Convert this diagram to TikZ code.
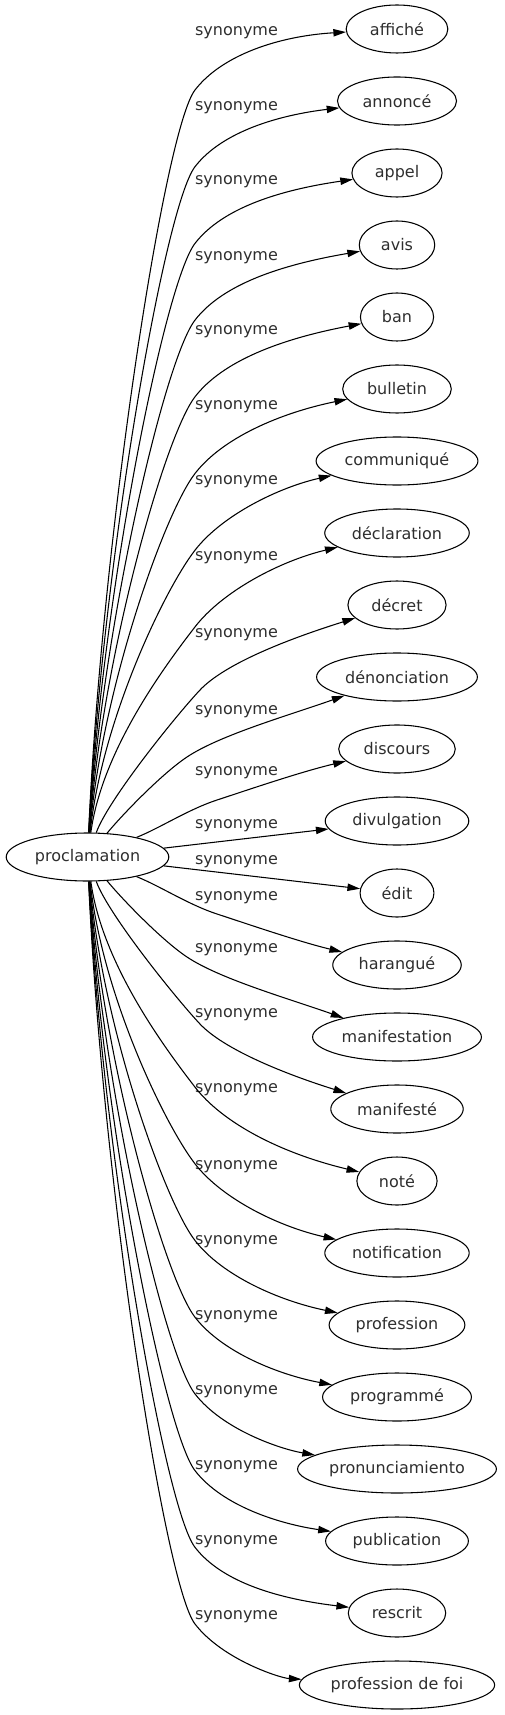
\documentclass[tikz,border=0pt]{standalone}
\usepackage{fontspec}
\setmainfont{DejaVu Sans}
\usetikzlibrary{arrows.meta,shapes.geometric}
\begin{document}
\begin{tikzpicture}[x=0.75pt,y=-0.75pt,
  every node/.style={font=\fontsize{12pt}{14pt}\selectfont, text=black!82},
  word/.style={draw=black, ellipse, line width=0.8pt, inner sep=0pt, minimum height=36pt},
  lab/.style={inner sep=0pt},
  link/.style={line width=0.8pt, -{Triangle[length=9.5pt,width=5.5pt]}}]
\useasboundingbox (0,0) rectangle (505,1715);
\fontsize{12pt}{14pt}\selectfont
% central node
\pgfmathwidth{"proclamation"}
\pgfmathsetmacro\pw{1.19*\pgfmathresult+28}
\node[word, minimum width=\pw pt] (p) at (87.5,857) {proclamation};
% targets
\foreach \w [count=\k from 0] in {affiché,annoncé,appel,avis,ban,bulletin,communiqué,déclaration,décret,dénonciation,discours,divulgation,édit,harangué,manifestation,manifesté,noté,notification,profession,programmé,pronunciamiento,publication,rescrit,profession de foi}{
  \fontsize{12pt}{14pt}\selectfont
  \pgfmathwidth{"\w"}
  \pgfmathsetmacro\tw{1.19*\pgfmathresult+28}
  \pgfmathsetmacro\ty{29+72*\k}
  \node[word, minimum width=\tw pt] (t\k) at (397,\ty) {\w};
}
% labels
\foreach \ly [count=\k from 0] in {33,108,182,258,332,407,482,558,635,712,773,826,862,898,950,1015,1090,1167,1242,1317,1392,1467,1542,1617}{
  \node[lab] (l\k) at (236.5,\ly) {synonyme};
}
% far curved edges (upper half, mirrored for lower half)
\foreach \i/\m in {0/7,1/14,2/17,3/20,4/22,5/24,6/26,7/28}{
  \pgfmathsetmacro\ty{29+72*\i}
  \pgfmathsetmacro\by{\ty+61+4.7*\i}
  \pgfmathsetmacro\pay{833-0.4*(833-\by)}
  \pgfmathsetmacro\pby{\by+39.5}
  \pgfmathsetmacro\qay{\by-35.6}
  \pgfmathsetmacro\qby{\ty+\m}
  \pgfmathtruncatemacro\j{23-\i}
  \draw[link] (p) .. controls (102,\pay) and (164.5,\pby) .. (195,\by)
     .. controls (222.5,\qay) and (280,\qby) .. (t\i);
  \draw[link] (p) .. controls (102,{1714-\pay}) and (164.5,{1714-\pby}) .. (195,{1714-\by})
     .. controls (222.5,{1714-\qay}) and (280,{1714-\qby}) .. (t\j);
}
% near curved edges
\foreach \i/\pax/\pay/\pbx/\pby/\bx/\by/\qax/\qay/\qbx/\qby in {
  8/108/800/176/715.5/200/690/224/664.5/285/640,
  9/122/815/162/773.6/187/757/220.3/734.8/290/715,
  10/160/828/188.5/809.3/217/800/245.5/790.7/300/772}{
  \pgfmathtruncatemacro\j{23-\i}
  \draw[link] (p) .. controls (\pax,\pay) and (\pbx,\pby) .. (\bx,\by)
     .. controls (\qax,\qay) and (\qbx,\qby) .. (t\i);
  \draw[link] (p) .. controls (\pax,{1714-\pay}) and (\pbx,{1714-\pby}) .. (\bx,{1714-\by})
     .. controls (\qax,{1714-\qay}) and (\qbx,{1714-\qby}) .. (t\j);
}
% straight edges
\draw[link] (p) -- (t11);
\draw[link] (p) -- (t12);
\end{tikzpicture}
\end{document}
